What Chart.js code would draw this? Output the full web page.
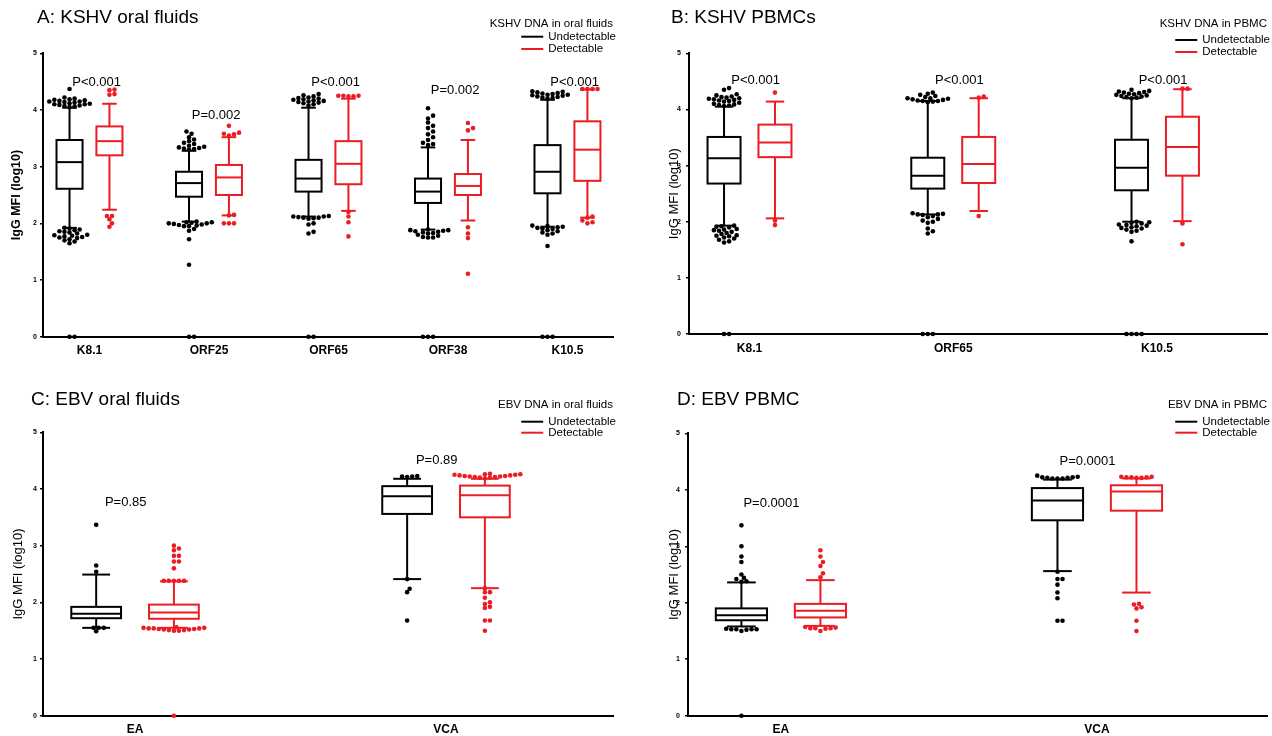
<!DOCTYPE html>
<html>
<head>
<meta charset="utf-8">
<script src="https://cdn.jsdelivr.net/npm/chart.js@4.4.1/dist/chart.umd.min.js"></script>
<style>
  body { margin: 0; background: #fff; width: 1272px; height: 736px; overflow: hidden; position: relative; }
  canvas { position: absolute; }
</style>
</head>
<body>
<canvas id="chartA"></canvas>
<canvas id="chartB"></canvas>
<canvas id="chartC"></canvas>
<canvas id="chartD"></canvas>
<script>
// ---- DATA ----
// box summaries per category: [lower whisker, Q1, median, Q3, upper whisker]

// A: KSHV oral fluids
const kshvOralCats = ['K8.1', 'ORF25', 'ORF65', 'ORF38', 'K10.5'];
const kshvOralUndet = [
  [1.92, 2.61, 3.08, 3.47, 4.04],
  [2.03, 2.47, 2.71, 2.91, 3.28],
  [2.12, 2.56, 2.79, 3.12, 4.04],
  [1.89, 2.36, 2.56, 2.79, 3.34],
  [1.94, 2.53, 2.91, 3.38, 4.18]
];
const kshvOralDet = [
  [2.24, 3.20, 3.45, 3.71, 4.11],
  [2.14, 2.50, 2.81, 3.03, 3.52],
  [2.22, 2.69, 3.05, 3.45, 4.20],
  [2.05, 2.50, 2.66, 2.87, 3.47],
  [2.10, 2.75, 3.30, 3.80, 4.36]
];
const kshvOralUndetOut = [
  [4.37, 4.22, 4.2, 4.19, 4.18, 4.17, 4.16, 4.15, 4.15, 4.14, 4.13, 4.12, 4.11, 4.1, 4.1, 4.09, 4.08, 4.07, 4.06, 4.05,
   1.92, 1.91, 1.89, 1.88, 1.86, 1.85, 1.84, 1.82, 1.8, 1.79, 1.78, 1.77, 1.76, 1.75, 1.74, 1.72, 1.7, 1.68, 1.65, 0, 0],
  [3.62, 3.58, 3.52, 3.48, 3.45, 3.42, 3.4, 3.37, 3.35, 3.34, 3.33, 3.32, 3.31, 3.3,
   2.03, 2.02, 2.02, 2.01, 2.0, 2.0, 1.99, 1.98, 1.97, 1.96, 1.95, 1.95, 1.9, 1.87, 1.72, 1.27, 0, 0],
  [4.28, 4.26, 4.24, 4.22, 4.21, 4.2, 4.19, 4.18, 4.17, 4.16, 4.15, 4.14, 4.13, 4.12, 4.1, 4.08,
   2.13, 2.12, 2.12, 2.11, 2.1, 2.1, 2.09, 2.08, 2.0, 1.98, 1.85, 1.82, 0, 0],
  [4.03, 3.9, 3.85, 3.78, 3.72, 3.68, 3.62, 3.57, 3.52, 3.47, 3.42, 3.4, 3.38,
   1.89, 1.88, 1.88, 1.87, 1.86, 1.85, 1.84, 1.83, 1.82, 1.8, 1.78, 1.76, 1.75, 1.75, 0, 0, 0],
  [4.33, 4.32, 4.31, 4.3, 4.29, 4.28, 4.27, 4.27, 4.26, 4.25, 4.24, 4.23, 4.22, 4.21, 4.2,
   1.96, 1.95, 1.94, 1.93, 1.92, 1.91, 1.9, 1.88, 1.86, 1.84, 1.82, 1.8, 1.6, 0, 0, 0]
];
const kshvOralDetOut = [
  [4.36, 4.35, 4.28, 4.27, 2.13, 2.13, 2.07, 2.0, 1.94],
  [3.72, 3.6, 3.58, 3.57, 3.55, 2.15, 2.14, 2.0, 2.0, 2.0],
  [4.25, 4.25, 4.24, 4.24, 4.25, 2.2, 2.12, 2.02, 1.77],
  [3.77, 3.68, 3.64, 1.93, 1.82, 1.74, 1.11],
  [4.37, 4.37, 4.37, 4.37, 2.12, 2.1, 2.05, 2.02, 2.0]
];
const kshvOralP = ['P<0.001', 'P=0.002', 'P<0.001', 'P=0.002', 'P<0.001'];

// B: KSHV PBMCs
const kshvPbmcCats = ['K8.1', 'ORF65', 'K10.5'];
const kshvPbmcUndet = [
  [1.93, 2.68, 3.13, 3.51, 4.05],
  [2.13, 2.59, 2.82, 3.14, 4.15],
  [2.00, 2.56, 2.96, 3.46, 4.20]
];
const kshvPbmcDet = [
  [2.06, 3.15, 3.41, 3.73, 4.14],
  [2.19, 2.69, 3.03, 3.51, 4.20],
  [2.01, 2.82, 3.33, 3.87, 4.36]
];
const kshvPbmcUndetOut = [
  [4.38, 4.35, 4.27, 4.25, 4.23, 4.22, 4.21, 4.2, 4.19, 4.18, 4.17, 4.16, 4.15, 4.14, 4.12, 4.1, 4.09, 4.08, 4.07, 4.06,
   1.93, 1.92, 1.91, 1.9, 1.87, 1.86, 1.85, 1.84, 1.82, 1.8, 1.78, 1.76, 1.75, 1.74, 1.72, 1.7, 1.68, 1.65, 1.63, 0, 0],
  [4.3, 4.28, 4.26, 4.24, 4.22, 4.2, 4.2, 4.19, 4.18, 4.17, 4.16, 4.15, 4.15, 4.14, 4.13,
   2.15, 2.14, 2.13, 2.13, 2.12, 2.1, 2.08, 2.05, 2.02, 2.0, 1.98, 1.88, 1.83, 1.79, 0, 0, 0],
  [4.35, 4.33, 4.32, 4.31, 4.3, 4.29, 4.28, 4.27, 4.26, 4.25, 4.24, 4.23, 4.22, 4.21, 4.2,
   2.0, 1.99, 1.98, 1.97, 1.95, 1.94, 1.93, 1.92, 1.9, 1.89, 1.88, 1.86, 1.84, 1.82, 1.65, 0, 0, 0, 0]
];
const kshvPbmcDetOut = [
  [4.3, 2.02, 1.94],
  [4.23, 4.21, 2.1],
  [4.37, 4.37, 1.97, 1.6]
];
const kshvPbmcP = ['P<0.001', 'P<0.001', 'P<0.001'];

// C: EBV oral fluids
const ebvOralCats = ['EA', 'VCA'];
const ebvOralUndet = [
  [1.55, 1.72, 1.80, 1.92, 2.49],
  [2.41, 3.56, 3.87, 4.05, 4.18]
];
const ebvOralDet = [
  [1.55, 1.71, 1.82, 1.96, 2.37],
  [2.25, 3.50, 3.89, 4.06, 4.18]
];
const ebvOralUndetOut = [
  [3.37, 2.65, 2.54, 1.55, 1.55, 1.55, 1.49],
  [4.23, 4.22, 4.22, 4.21, 2.41, 2.24, 2.18, 1.68]
];
const ebvOralDetOut = [
  [3.0, 2.95, 2.92, 2.82, 2.82, 2.72, 2.72, 2.6, 2.38, 2.38, 2.38, 2.38, 2.38,
   1.56, 1.55, 1.55, 1.54, 1.54, 1.54, 1.53, 1.53, 1.52, 1.52, 1.51, 1.51, 1.5, 1.5, 0],
  [4.27, 4.26, 4.26, 4.25, 4.25, 4.24, 4.24, 4.23, 4.23, 4.22, 4.22, 4.21, 4.21, 4.2, 4.2, 4.19,
   2.25, 2.18, 2.18, 2.08, 2.0, 1.97, 1.92, 1.9, 1.68, 1.68, 1.5]
];
const ebvOralP = ['P=0.85', 'P=0.89'];

// D: EBV PBMC
const ebvPbmcCats = ['EA', 'VCA'];
const ebvPbmcUndet = [
  [1.58, 1.69, 1.78, 1.90, 2.36],
  [2.56, 3.46, 3.81, 4.03, 4.18]
];
const ebvPbmcDet = [
  [1.59, 1.74, 1.86, 1.98, 2.40],
  [2.18, 3.63, 3.97, 4.08, 4.20]
];
const ebvPbmcUndetOut = [
  [3.37, 3.0, 2.82, 2.72, 2.5, 2.44, 2.42, 2.38, 2.37, 1.54, 1.53, 1.53, 1.53, 1.53, 1.52, 1.5, 0],
  [4.25, 4.23, 4.22, 4.22, 4.21, 4.21, 4.2, 4.2, 4.2, 2.55, 2.42, 2.42, 2.32, 2.18, 2.08, 1.68, 1.68]
];
const ebvPbmcDetOut = [
  [2.93, 2.82, 2.72, 2.65, 2.52, 2.45, 1.57, 1.56, 1.55, 1.55, 1.55, 1.54, 1.5],
  [4.23, 4.23, 4.22, 4.22, 4.22, 4.21, 4.21, 1.98, 1.97, 1.92, 1.9, 1.68, 1.5]
];
const ebvPbmcP = ['P=0.0001', 'P=0.0001'];

const yTicks = [0, 1, 2, 3, 4, 5];
const groupLabels = ['Undetectable', 'Detectable'];

// ---- LAYOUT ----
const FONT = '"Liberation Sans", Arial, Helvetica, sans-serif';
const BLACK = '#000000';
const RED = '#ec1c24';

const panels = [
  { id: 'chartA', left: 0, top: 0, w: 636, h: 362, area: { left: 43, right: 613, top: 53.3, bottom: 336.7 },
    xMin: -0.389, xMax: 4.381, off: 0.167, half: 0.109,
    title: 'A: KSHV oral fluids', titleX: 37, titleY: 18,
    legendTitle: 'KSHV DNA in oral fluids', legendY: [24, 36.7, 49],
    yTitleBold: true, yTitlePad: 9.5, tickPad: 3, pDx: 0.06, pAt: [4.49, 3.9, 4.49, 4.34, 4.49],
    cats: kshvOralCats, und: kshvOralUndet, det: kshvOralDet,
    undOut: kshvOralUndetOut, detOut: kshvOralDetOut, pvals: kshvOralP },
  { id: 'chartB', left: 636, top: 0, w: 636, h: 362, area: { left: 53, right: 631, top: 53.3, bottom: 334 },
    xMin: -0.297, xMax: 2.54, off: 0.125, half: 0.081,
    title: 'B: KSHV PBMCs', titleX: 35, titleY: 18,
    legendTitle: 'KSHV DNA in PBMC', legendY: [24, 40, 52],
    yTitleBold: false, yTitlePad: 31, tickPad: 5, pDx: 0.03, pAt: [4.52, 4.52, 4.52],
    cats: kshvPbmcCats, und: kshvPbmcUndet, det: kshvPbmcDet,
    undOut: kshvPbmcUndetOut, detOut: kshvPbmcDetOut, pvals: kshvPbmcP },
  { id: 'chartC', left: 0, top: 362, w: 636, h: 374, area: { left: 43, right: 613, top: 70.3, bottom: 353.7 },
    xMin: -0.296, xMax: 1.537, off: 0.125, half: 0.08,
    title: 'C: EBV oral fluids', titleX: 31, titleY: 38,
    legendTitle: 'EBV DNA in oral fluids', legendY: [43, 59.7, 70.7],
    yTitleBold: false, yTitlePad: 10.7, tickPad: 3, pDx: -0.03, pAt: [3.76, 4.51],
    cats: ebvOralCats, und: ebvOralUndet, det: ebvOralDet,
    undOut: ebvOralUndetOut, detOut: ebvOralDetOut, pvals: ebvOralP },
  { id: 'chartD', left: 636, top: 362, w: 636, h: 374, area: { left: 52, right: 631, top: 71.3, bottom: 353.7 },
    xMin: -0.294, xMax: 1.538, off: 0.125, half: 0.081,
    title: 'D: EBV PBMC', titleX: 41, titleY: 38,
    legendTitle: 'EBV DNA in PBMC', legendY: [43, 59.7, 70.7],
    yTitleBold: false, yTitlePad: 31, tickPad: 5, pDx: -0.03, pAt: [3.76, 4.51],
    cats: ebvPbmcCats, und: ebvPbmcUndet, det: ebvPbmcDet,
    undOut: ebvPbmcUndetOut, detOut: ebvPbmcDetOut, pvals: ebvPbmcP }
];

Chart.defaults.font.family = FONT;
Chart.defaults.color = BLACK;

function line(ctx, x0, y0, x1, y1) {
  ctx.beginPath();
  ctx.moveTo(x0, y0);
  ctx.lineTo(x1, y1);
  ctx.stroke();
}

// box, median, whiskers and caps of one group
function drawBox(ctx, xs, ys, center, half, s, color) {
  const [lo, q1, med, q3, hi] = s;
  const x0 = xs.getPixelForValue(center - half);
  const x1 = xs.getPixelForValue(center + half);
  const xm = xs.getPixelForValue(center);
  const cap = (x1 - x0) * 0.28;
  ctx.save();
  ctx.strokeStyle = color;
  ctx.lineWidth = 2;
  const yq1 = ys.getPixelForValue(q1), yq3 = ys.getPixelForValue(q3);
  ctx.strokeRect(x0, yq3, x1 - x0, yq1 - yq3);
  line(ctx, x0, ys.getPixelForValue(med), x1, ys.getPixelForValue(med));
  line(ctx, xm, yq3, xm, ys.getPixelForValue(hi));
  line(ctx, xm, yq1, xm, ys.getPixelForValue(lo));
  line(ctx, xm - cap, ys.getPixelForValue(hi), xm + cap, ys.getPixelForValue(hi));
  line(ctx, xm - cap, ys.getPixelForValue(lo), xm + cap, ys.getPixelForValue(lo));
  ctx.restore();
}

function makePlugin(p) {
  return {
    id: 'boxes' + p.id,
    beforeDatasetsDraw(chart) {
      const { ctx, scales: { x, y } } = chart;
      p.cats.forEach((c, i) => {
        drawBox(ctx, x, y, i - p.off, p.half, p.und[i], BLACK);
        drawBox(ctx, x, y, i + p.off, p.half, p.det[i], RED);
      });
    },
    afterDraw(chart) {
      const { ctx, chartArea, scales: { x, y } } = chart;
      ctx.save();
      ctx.fillStyle = BLACK;
      ctx.textBaseline = 'middle';
      // panel title
      ctx.textAlign = 'left';
      ctx.font = '19px ' + FONT;
      ctx.fillText(p.title, p.titleX, p.titleY);
      // p-values
      ctx.textAlign = 'center';
      ctx.font = '13px ' + FONT;
      p.pvals.forEach((t, i) => {
        ctx.fillText(t, x.getPixelForValue(i + p.pDx), y.getPixelForValue(p.pAt[i]));
      });
      // legend
      ctx.font = '11.5px ' + FONT;
      const R = chartArea.right + 3;
      const tx = R - ctx.measureText(groupLabels[0]).width;
      ctx.textAlign = 'right';
      ctx.fillText(p.legendTitle, R - 3, p.legendY[0]);
      ctx.textAlign = 'left';
      [BLACK, RED].forEach((col, k) => {
        const ly = p.legendY[k + 1];
        ctx.strokeStyle = col;
        ctx.lineWidth = 2;
        line(ctx, tx - 27, ly, tx - 5, ly);
        ctx.fillText(groupLabels[k], tx, ly);
      });
      ctx.restore();
    }
  };
}

// spread outliers sideways so dots with close values sit next to each other
// (dots may overlap a little, as in the original figure)
function swarm(xs, ys, center, values, r) {
  const cx = xs.getPixelForValue(center);
  const d = 2 * r;
  const minD = d * 0.86;
  const placed = [];
  const out = [];
  values.slice().sort((a, b) => a - b).forEach(v => {
    const py = ys.getPixelForValue(v);
    for (let k = 0; k < 80; k++) {
      const off = (k % 2 ? 1 : -1) * Math.ceil(k / 2) * d * 0.55;
      const px = cx + off;
      if (placed.every(q => (q[0] - px) ** 2 + (q[1] - py) ** 2 >= minD * minD)) {
        placed.push([px, py]);
        out.push({ x: xs.getValueForPixel(px), y: v });
        break;
      }
    }
  });
  return out;
}

const R_PT = 2.3;

panels.forEach(p => {
  const cv = document.getElementById(p.id);
  cv.width = p.w;
  cv.height = p.h;
  cv.style.left = p.left + 'px';
  cv.style.top = p.top + 'px';

  const chart = new Chart(cv.getContext('2d'), {
    type: 'scatter',
    data: {
      datasets: [
        { label: groupLabels[0], data: [], pointRadius: R_PT, pointBackgroundColor: BLACK, pointBorderWidth: 0, clip: false },
        { label: groupLabels[1], data: [], pointRadius: R_PT, pointBackgroundColor: RED, pointBorderWidth: 0, clip: false }
      ]
    },
    options: {
      responsive: false,
      animation: false,
      events: [],
      layout: {
        autoPadding: false,
        padding: { left: 0, right: p.w - p.area.right, top: p.area.top, bottom: 0 }
      },
      plugins: { legend: { display: false }, tooltip: { enabled: false }, title: { display: false } },
      scales: {
        x: {
          type: 'linear',
          min: p.xMin,
          max: p.xMax,
          grid: { display: false, drawTicks: false },
          border: { color: BLACK, width: 2 },
          afterBuildTicks: s => { s.ticks = p.cats.map((c, i) => ({ value: i })); },
          afterFit: s => { s.height = p.h - p.area.bottom; },
          ticks: {
            autoSkip: false,
            maxRotation: 0,
            padding: 7,
            font: { size: 12, weight: 'bold' },
            color: BLACK,
            callback: v => p.cats[v]
          }
        },
        y: {
          min: 0,
          max: 5,
          afterBuildTicks: s => { s.ticks = yTicks.map(v => ({ value: v })); },
          afterFit: s => { s.width = p.area.left; },
          grid: { drawOnChartArea: false, drawTicks: true, tickLength: 3, color: BLACK, lineWidth: 1.5 },
          border: { color: BLACK, width: 2 },
          ticks: { padding: p.tickPad, font: { size: 7, weight: 'bold' }, color: BLACK },
          title: {
            display: true,
            text: 'IgG MFI (log10)',
            color: BLACK,
            padding: { top: p.yTitlePad, bottom: 0 },
            font: { size: p.yTitleBold ? 12.5 : 13, weight: p.yTitleBold ? 'bold' : 'normal' }
          }
        }
      }
    },
    plugins: [makePlugin(p)]
  });

  const xs = chart.scales.x, ys = chart.scales.y;
  chart.data.datasets[0].data = p.cats.flatMap((c, i) => swarm(xs, ys, i - p.off, p.undOut[i], R_PT));
  chart.data.datasets[1].data = p.cats.flatMap((c, i) => swarm(xs, ys, i + p.off, p.detOut[i], R_PT));
  chart.update('none');
});
</script>
</body>
</html>
